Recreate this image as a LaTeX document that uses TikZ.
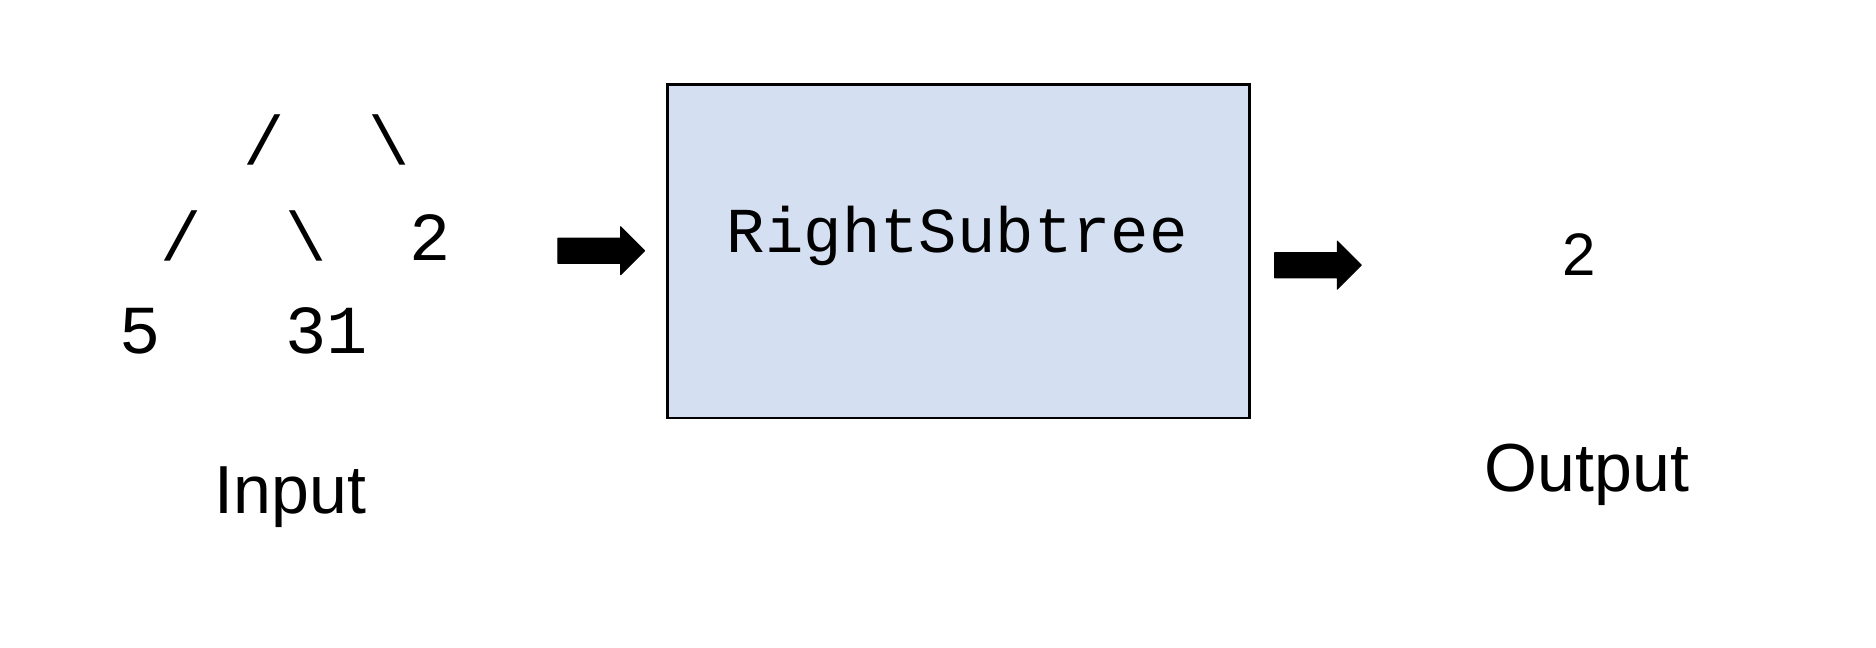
\documentclass[tikz,border=0pt]{standalone}
\usepackage{fontspec}
\setmainfont{Liberation Sans}
\newfontfamily\monofont{Liberation Mono}
\definecolor{boxblue}{HTML}{D4E0F1}
\begin{document}
\begin{tikzpicture}[x=1.2026pt,y=-1.2026pt,
  treech/.style={font=\monofont\fontsize{68.7}{70}\selectfont, anchor=base, inner sep=0},
  lbl/.style={font=\fontsize{68}{70}\selectfont, anchor=base, inner sep=0},
  blockarrow/.style={fill=black, draw=black, line width=1pt, line join=round}]
\useasboundingbox (0,0) rectangle (1560,538.8);
% tree (input)
\node[treech] (r1a) at (219.75,137) {/};
\node[treech] (r1b) at (323.25,137) {\textbackslash};
\node[treech] (r2a) at (150.75,217) {/};
\node[treech] (r2b) at (254.25,217) {\textbackslash};
\node[treech] (r2c) at (357.75,217) {2};
\node[treech] (r3a) at (116.25,294) {5};
\node[treech] (r3b) at (271.5,294) {31};
\node[lbl] (input) at (241.5,427) {Input};
% left arrow
\fill[blockarrow] (464,198) -- (516,198) -- (516,188.5) -- (536,208.5) -- (516,228.5) -- (516,219) -- (464,219) -- cycle;
% box
\node[draw=black, fill=boxblue, line width=2.6pt, minimum width=484*1.2026pt, minimum height=277*1.2026pt, inner sep=0] (box) at (797,209) {};
\node[font=\monofont\fontsize{64}{66}\selectfont, anchor=base, inner sep=0] (fn) at (796,210) {RightSubtree};
% right arrow
\fill[blockarrow] (1060,210) -- (1112,210) -- (1112,200.5) -- (1132,220.5) -- (1112,240.5) -- (1112,231) -- (1060,231) -- cycle;
% output
\node[font=\fontsize{60}{62}\selectfont, anchor=base, inner sep=0] (out) at (1313,228.7) {2};
\node[lbl] (output) at (1319.6,409) {Output};
\end{tikzpicture}
\end{document}
